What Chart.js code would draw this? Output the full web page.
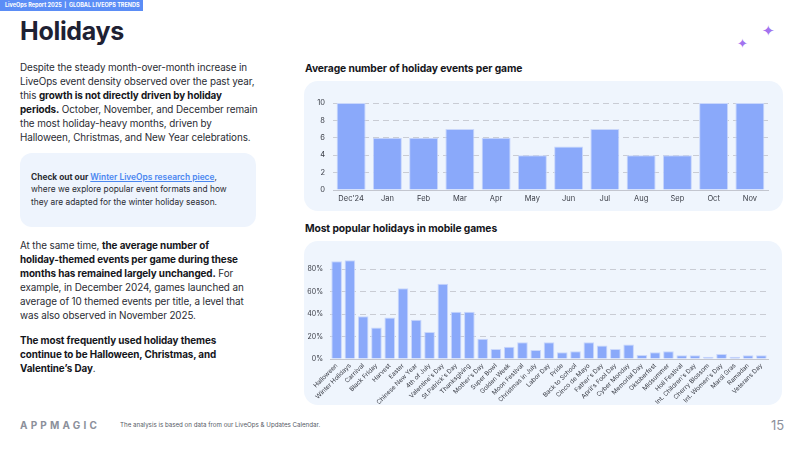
<!DOCTYPE html>
<html>
<head>
<meta charset="utf-8">
<script src="https://cdn.jsdelivr.net/npm/chart.js@4.4.1/dist/chart.umd.min.js"></script>
<style>
  html, body { margin: 0; padding: 0; background: #fff; }
  body { width: 800px; height: 450px; position: relative; overflow: hidden; font-family: Inter, "Noto Sans", sans-serif; color: #22242c; }
  .abs { position: absolute; }
  .strip { left: 0; top: 0; width: 143px; height: 11px; background: #5b8df6; color: #fff; font-size: 5.5px; font-weight: 700; line-height: 11px; padding-left: 5px; box-sizing: border-box; white-space: nowrap; overflow: hidden; }
  .title { left: 20px; top: 16px; font-size: 25px; font-weight: 700; color: #1e2133; letter-spacing: -0.3px; }
  .txt { font-size: 9.9px; line-height: 14px; white-space: nowrap; letter-spacing: -0.1px; color: #2a2c33; }
  .txt b { font-weight: 700; color: #15161b; }
  .callout { left: 20px; top: 153px; width: 236px; height: 74px; background: #eef4fd; border-radius: 12px; }
  .ctxt { left: 31px; top: 171px; font-size: 8.4px; line-height: 12.3px; white-space: nowrap; color: #2a2c33; }
  .ctxt a { color: #4a86f0; text-decoration: underline; font-weight: 600; }
  .panel { background: #eff5fd; border-radius: 14px; }
  .ctitle { font-size: 10.3px; font-weight: 700; color: #15161b; white-space: nowrap; letter-spacing: -0.1px; }
  .logo { left: 20px; top: 419px; font-size: 10px; font-weight: 700; letter-spacing: 3.2px; color: #8c909b; }
  .foot { left: 120px; top: 421px; font-size: 6.2px; color: #555a66; white-space: nowrap; }
  .page { left: 771px; top: 417px; font-size: 13px; color: #8c909b; }
  .spark { color: #a273ef; line-height: 1; }
</style>
</head>
<body>
<div class="abs strip">LiveOps Report 2025 &nbsp;|&nbsp; GLOBAL LIVEOPS TRENDS</div>
<div class="abs title">Holidays</div>

<div class="abs txt" style="left:20px; top:60px;">
Despite the steady month-over-month increase in<br>
LiveOps event density observed over the past year,<br>
this <b>growth is not directly driven by holiday</b><br>
<b>periods.</b> October, November, and December remain<br>
the most holiday-heavy months, driven by<br>
Halloween, Christmas, and New Year celebrations.
</div>

<div class="abs callout"></div>
<div class="abs ctxt">
<b>Check out our <a>Winter LiveOps research piece</a></b>,<br>
where we explore popular event formats and how<br>
they are adapted for the winter holiday season.
</div>

<div class="abs txt" style="left:20px; top:238px;">
At the same time, <b>the average number of</b><br>
<b>holiday-themed events per game during these</b><br>
<b>months has remained largely unchanged.</b> For<br>
example, in December 2024, games launched an<br>
average of 10 themed events per title, a level that<br>
was also observed in November 2025.
</div>
<div class="abs txt" style="left:20px; top:333px;">
<b>The most frequently used holiday themes</b><br>
<b>continue to be Halloween, Christmas, and</b><br>
<b>Valentine’s Day</b>.
</div>

<div class="abs spark" style="left:737px; top:37px; font-size:13px;">✦</div>
<div class="abs spark" style="left:762px; top:23px; font-size:15px;">✦</div>

<div class="abs ctitle" style="left:305px; top:62px;">Average number of holiday events per game</div>
<div class="abs panel" style="left:304px; top:81px; width:479px; height:130px;"></div>
<div class="abs" style="left:304px; top:81px; width:479px; height:130px;"><canvas id="c1"></canvas></div>

<div class="abs ctitle" style="left:305px; top:222px;">Most popular holidays in mobile games</div>
<div class="abs panel" style="left:304px; top:241px; width:478px; height:164px;"></div>
<div class="abs" style="left:304px; top:241px; width:478px; height:164px;"><canvas id="c2"></canvas></div>

<div class="abs logo">APPMAGIC</div>
<div class="abs foot">The analysis is based on data from our LiveOps &amp; Updates Calendar.</div>
<div class="abs page">15</div>

<script>
// ========= data =========
const months = ["Dec'24", "Jan", "Feb", "Mar", "Apr", "May", "Jun", "Jul", "Aug", "Sep", "Oct", "Nov"];
const avgEvents = [10, 6, 6, 7, 6, 4, 5, 7, 4, 4, 10, 10];

const holidays = [
  "Halloween", "Winter Holidays", "Carnival", "Black Friday", "Harvest", "Easter",
  "Chinese New Year", "4th of July", "Valentine's Day", "St.Patrick's Day", "Thanksgiving",
  "Mother's Day", "Super Bowl", "Golden Week", "Moon Festival", "Christmas in July",
  "Labor Day", "Pride", "Back to School", "Cinco de Mayo", "Father's Day", "April's Fool Day",
  "Cyber Monday", "Memorial Day", "Oktoberfest", "Midsummer", "Holi Festival",
  "Int. Children's Day", "Cherry Blossom", "Int. Women's Day", "Mardi Gras", "Ramadan", "Veterans Day"
];
const holidayShare = [
  87, 88, 38, 28, 37, 63,
  35, 24, 67, 42, 42,
  18, 9, 11, 15, 8,
  15, 6, 7, 15, 12, 9,
  13, 3.5, 6, 7, 3.3,
  3.3, 2, 4.5, 2, 3.3, 3.3
];

const yTicks1 = [0, 2, 4, 6, 8, 10];
const yTicks2 = [0, 20, 40, 60, 80];

const barColor = "#8aa9fa";
const barEdge = "#c9d7fb";
const gridColor = "#c9ccd4";
const tickColor = "#3a3d46";

// ========= top chart =========
new Chart(document.getElementById("c1"), {
  type: "bar",
  data: {
    labels: months,
    datasets: [{
      data: avgEvents,
      backgroundColor: barColor,
      borderColor: barEdge,
      borderWidth: 1,
      barPercentage: 0.8,
      categoryPercentage: 1
    }]
  },
  options: {
    responsive: true,
    maintainAspectRatio: false,
    animation: false,
    layout: { padding: { top: 22, right: 15, bottom: 0, left: 0 } },
    plugins: { legend: { display: false }, tooltip: { enabled: false } },
    scales: {
      x: {
        grid: { display: false, drawTicks: false },
        border: { display: true, color: "#c3c6cf", width: 1 },
        ticks: { color: tickColor, font: { size: 7.5, family: "Inter" }, padding: 4 },
        afterFit: s => { s.height = 21; }
      },
      y: {
        min: 0, max: 10,
        afterBuildTicks: s => { s.ticks = yTicks1.map(v => ({ value: v })); },
        grid: { color: gridColor, lineWidth: 1, drawTicks: false },
        border: { display: false, dash: [6, 4] },
        ticks: { color: tickColor, font: { size: 7.5, family: "Inter" }, padding: 8 },
        afterFit: s => { s.width = 29; }
      }
    }
  }
});

// ========= bottom chart =========
new Chart(document.getElementById("c2"), {
  type: "bar",
  data: {
    labels: holidays,
    datasets: [{
      data: holidayShare,
      backgroundColor: barColor,
      borderColor: barEdge,
      borderWidth: 1,
      barPercentage: 0.8,
      categoryPercentage: 1
    }]
  },
  options: {
    responsive: true,
    maintainAspectRatio: false,
    animation: false,
    layout: { padding: { top: 17, right: 14, bottom: 0, left: 0 } },
    plugins: { legend: { display: false }, tooltip: { enabled: false } },
    scales: {
      x: {
        grid: { display: false, drawTicks: false },
        border: { display: true, color: "#c3c6cf", width: 1 },
        ticks: {
          color: tickColor, font: { size: 6.3, family: "Inter" }, padding: 3,
          minRotation: 45, maxRotation: 45, autoSkip: false
        },
        afterFit: s => { s.height = 46; }
      },
      y: {
        min: 0, max: 90,
        afterBuildTicks: s => { s.ticks = yTicks2.map(v => ({ value: v })); },
        grid: { color: gridColor, lineWidth: 1, drawTicks: false },
        border: { display: false, dash: [6, 4] },
        ticks: { color: tickColor, font: { size: 7, family: "Inter" }, padding: 7, callback: v => v + "%" },
        afterFit: s => { s.width = 26; }
      }
    }
  }
});
</script>
</body>
</html>
